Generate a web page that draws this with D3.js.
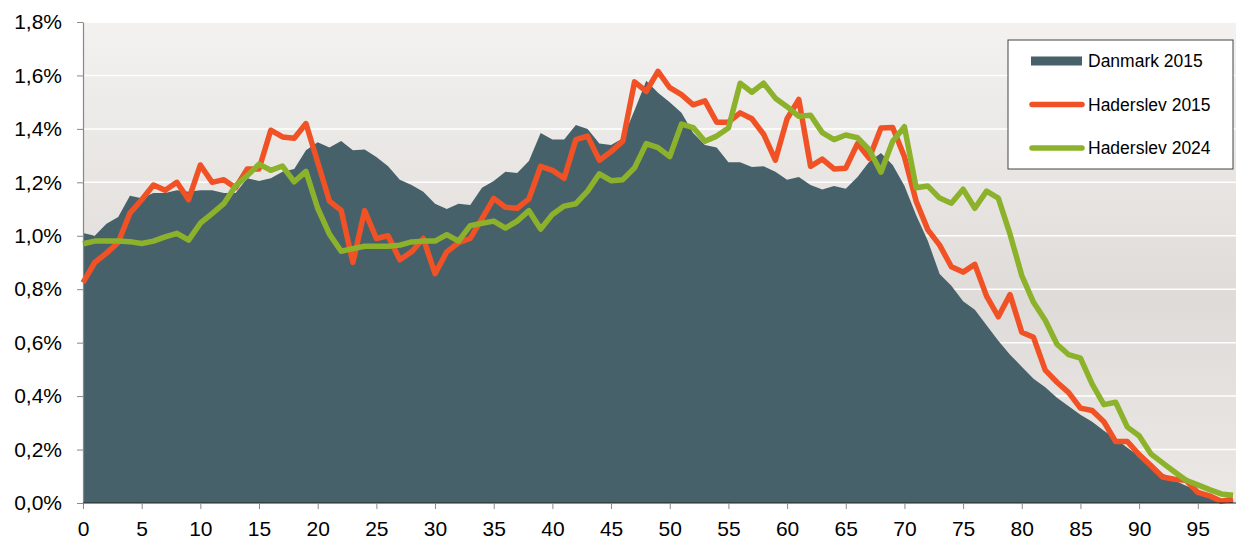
<!DOCTYPE html>
<html>
<head>
<meta charset="utf-8">
<script src="https://cdn.jsdelivr.net/npm/d3@7"></script>
<style>
  body { margin: 0; background: #fff; }
  svg { display: block; font-family: Arial, "Liberation Sans", sans-serif; }
</style>
</head>
<body>
<div id="chart"></div>
<script>
// chart data (share of population by age, in %)
var ages = [0,1,2,3,4,5,6,7,8,9,10,11,12,13,14,15,16,17,18,19,
  20,21,22,23,24,25,26,27,28,29,30,31,32,33,34,35,36,37,38,39,
  40,41,42,43,44,45,46,47,48,49,50,51,52,53,54,55,56,57,58,59,
  60,61,62,63,64,65,66,67,68,69,70,71,72,73,74,75,76,77,78,79,
  80,81,82,83,84,85,86,87,88,89,90,91,92,93,94,95,96,97,98];

var danmark2015 = [1.01,1.00,1.045,1.07,1.15,1.14,1.16,1.16,1.17,1.165,
  1.17,1.17,1.16,1.16,1.215,1.205,1.215,1.24,1.25,1.32,
  1.35,1.33,1.355,1.32,1.323,1.295,1.26,1.21,1.19,1.165,
  1.12,1.10,1.12,1.115,1.18,1.205,1.24,1.235,1.28,1.385,
  1.36,1.36,1.415,1.40,1.345,1.34,1.365,1.47,1.58,1.535,
  1.50,1.46,1.385,1.34,1.33,1.275,1.275,1.257,1.26,1.24,
  1.21,1.22,1.19,1.173,1.186,1.176,1.22,1.277,1.31,1.265,
  1.187,1.077,0.98,0.857,0.813,0.755,0.723,0.665,0.607,0.555,
  0.51,0.465,0.433,0.394,0.362,0.33,0.304,0.27,0.24,0.207,
  0.175,0.143,0.11,0.085,0.065,0.046,0.03,0.016,0.01];

var haderslev2015 = [0.825,0.90,0.935,0.975,1.085,1.135,1.19,1.17,1.20,1.135,
  1.265,1.20,1.21,1.18,1.25,1.25,1.395,1.37,1.365,1.42,
  1.275,1.13,1.095,0.90,1.094,0.99,1.00,0.91,0.94,0.99,
  0.858,0.94,0.974,0.99,1.064,1.14,1.107,1.103,1.138,1.26,
  1.245,1.215,1.36,1.373,1.283,1.315,1.354,1.576,1.54,1.615,
  1.554,1.528,1.49,1.505,1.425,1.425,1.46,1.438,1.38,1.283,
  1.438,1.51,1.26,1.287,1.25,1.253,1.345,1.29,1.403,1.405,
  1.296,1.129,1.022,0.965,0.884,0.864,0.893,0.774,0.697,0.78,
  0.639,0.62,0.497,0.452,0.413,0.355,0.346,0.304,0.23,0.23,
  0.181,0.14,0.097,0.089,0.085,0.04,0.027,0.007,0.014];

var haderslev2024 = [0.97,0.98,0.98,0.98,0.978,0.971,0.98,0.996,1.009,0.984,
  1.047,1.083,1.12,1.187,1.225,1.268,1.245,1.261,1.202,1.241,
  1.103,1.006,0.942,0.952,0.961,0.961,0.961,0.965,0.977,0.98,
  0.98,1.004,0.98,1.038,1.047,1.055,1.029,1.055,1.094,1.025,
  1.08,1.111,1.12,1.167,1.232,1.206,1.21,1.254,1.345,1.33,
  1.296,1.418,1.405,1.354,1.373,1.403,1.571,1.537,1.571,1.515,
  1.483,1.447,1.451,1.386,1.36,1.377,1.367,1.322,1.238,1.354,
  1.408,1.18,1.186,1.141,1.122,1.174,1.103,1.167,1.141,1.006,
  0.851,0.751,0.684,0.594,0.555,0.542,0.445,0.368,0.377,0.284,
  0.252,0.184,0.15,0.117,0.085,0.068,0.05,0.034,0.029];

var yTicks = [0,0.2,0.4,0.6,0.8,1.0,1.2,1.4,1.6,1.8];
var xTicks = [0,5,10,15,20,25,30,35,40,45,50,55,60,65,70,75,80,85,90,95];

var seriesNames = ["Danmark 2015", "Haderslev 2015", "Haderslev 2024"];
var colors = ["#46616a", "#f05226", "#8cb22c"];

// dimensions
var W = 1236, H = 540;
var margin = {top: 22, right: 3, bottom: 37, left: 83};

var svg = d3.select("#chart")
  .append("svg")
  .attr("width", W)
  .attr("height", H);

var x = d3.scaleLinear()
  .domain([0, 98])
  .range([margin.left, W - margin.right]);

var y = d3.scaleLinear()
  .domain([0, 1.8])
  .range([H - margin.bottom, margin.top]);

// background gradient of plot area
var grad = svg.append("defs").append("linearGradient")
  .attr("id", "bg")
  .attr("x1", 0).attr("y1", 0).attr("x2", 0).attr("y2", 1);
grad.append("stop").attr("offset", "0%").attr("stop-color", "#f3f2f0");
grad.append("stop").attr("offset", "58%").attr("stop-color", "#dfdbd8");
grad.append("stop").attr("offset", "100%").attr("stop-color", "#ebe8e5");

svg.append("rect")
  .attr("x", margin.left)
  .attr("y", margin.top)
  .attr("width", W - margin.left)
  .attr("height", y(0) - margin.top)
  .attr("fill", "url(#bg)");

// white gridlines
svg.append("g")
  .selectAll("line")
  .data(yTicks.slice(1))
  .enter()
  .append("line")
  .attr("x1", margin.left)
  .attr("x2", W)
  .attr("y1", function(d) { return y(d); })
  .attr("y2", function(d) { return y(d); })
  .attr("stroke", "#ffffff")
  .attr("stroke-width", 1.5);

// Danmark 2015 area
var area = d3.area()
  .x(function(d, i) { return x(ages[i]); })
  .y0(y(0))
  .y1(function(d) { return y(d); });

svg.append("path")
  .datum(danmark2015)
  .attr("fill", colors[0])
  .attr("d", area);

// Haderslev lines
var line = d3.line()
  .x(function(d, i) { return x(ages[i]); })
  .y(function(d) { return y(d); });

[haderslev2015, haderslev2024].forEach(function(s, k) {
  svg.append("path")
    .datum(s)
    .attr("fill", "none")
    .attr("stroke", colors[k + 1])
    .attr("stroke-width", 5.5)
    .attr("stroke-linejoin", "round")
    .attr("d", line);
});

// axes
var fmt = function(d) { return d3.format(".1f")(d).replace(".", ",") + "%"; };

var yAxis = svg.append("g")
  .attr("transform", "translate(" + margin.left + ",0)")
  .call(d3.axisLeft(y).tickValues(yTicks).tickFormat(fmt).tickSize(6).tickPadding(15).tickSizeOuter(0));
yAxis.select(".domain").attr("stroke", "#888888").attr("stroke-width", 1.2);
yAxis.selectAll(".tick line").attr("stroke", "#888888");
yAxis.selectAll("text").style("font-size", "21px").attr("fill", "#000");

var xAxis = svg.append("g")
  .attr("transform", "translate(0," + y(0) + ")")
  .call(d3.axisBottom(x).tickValues(xTicks).tickFormat(d3.format("d")).tickSize(6).tickPadding(12).tickSizeOuter(0));
xAxis.select(".domain").attr("stroke", "#222").attr("stroke-width", 1.2)
  .attr("d", "M" + margin.left + ",0H" + W);
xAxis.selectAll(".tick line").attr("stroke", "#888888");
xAxis.selectAll("text").style("font-size", "21px").attr("fill", "#000");

// legend
var legend = svg.append("g").attr("transform", "translate(1008,40)");
legend.append("rect")
  .attr("width", 225)
  .attr("height", 129)
  .attr("fill", "#ffffff")
  .attr("stroke", "#444")
  .attr("stroke-width", 1);

seriesNames.forEach(function(name, i) {
  var ly = 21 + i * 43.5;
  if (i === 0) {
    legend.append("rect")
      .attr("x", 23).attr("y", ly - 4.5)
      .attr("width", 51).attr("height", 9)
      .attr("fill", colors[0]);
  } else {
    legend.append("line")
      .attr("x1", 24).attr("x2", 74)
      .attr("y1", ly).attr("y2", ly)
      .attr("stroke", colors[i])
      .attr("stroke-width", 5.5)
      .attr("stroke-linecap", "round");
  }
  legend.append("text")
    .attr("x", 80)
    .attr("y", ly)
    .attr("dy", "0.36em")
    .style("font-size", "17.5px")
    .attr("fill", "#000")
    .text(name);
});
</script>
</body>
</html>
